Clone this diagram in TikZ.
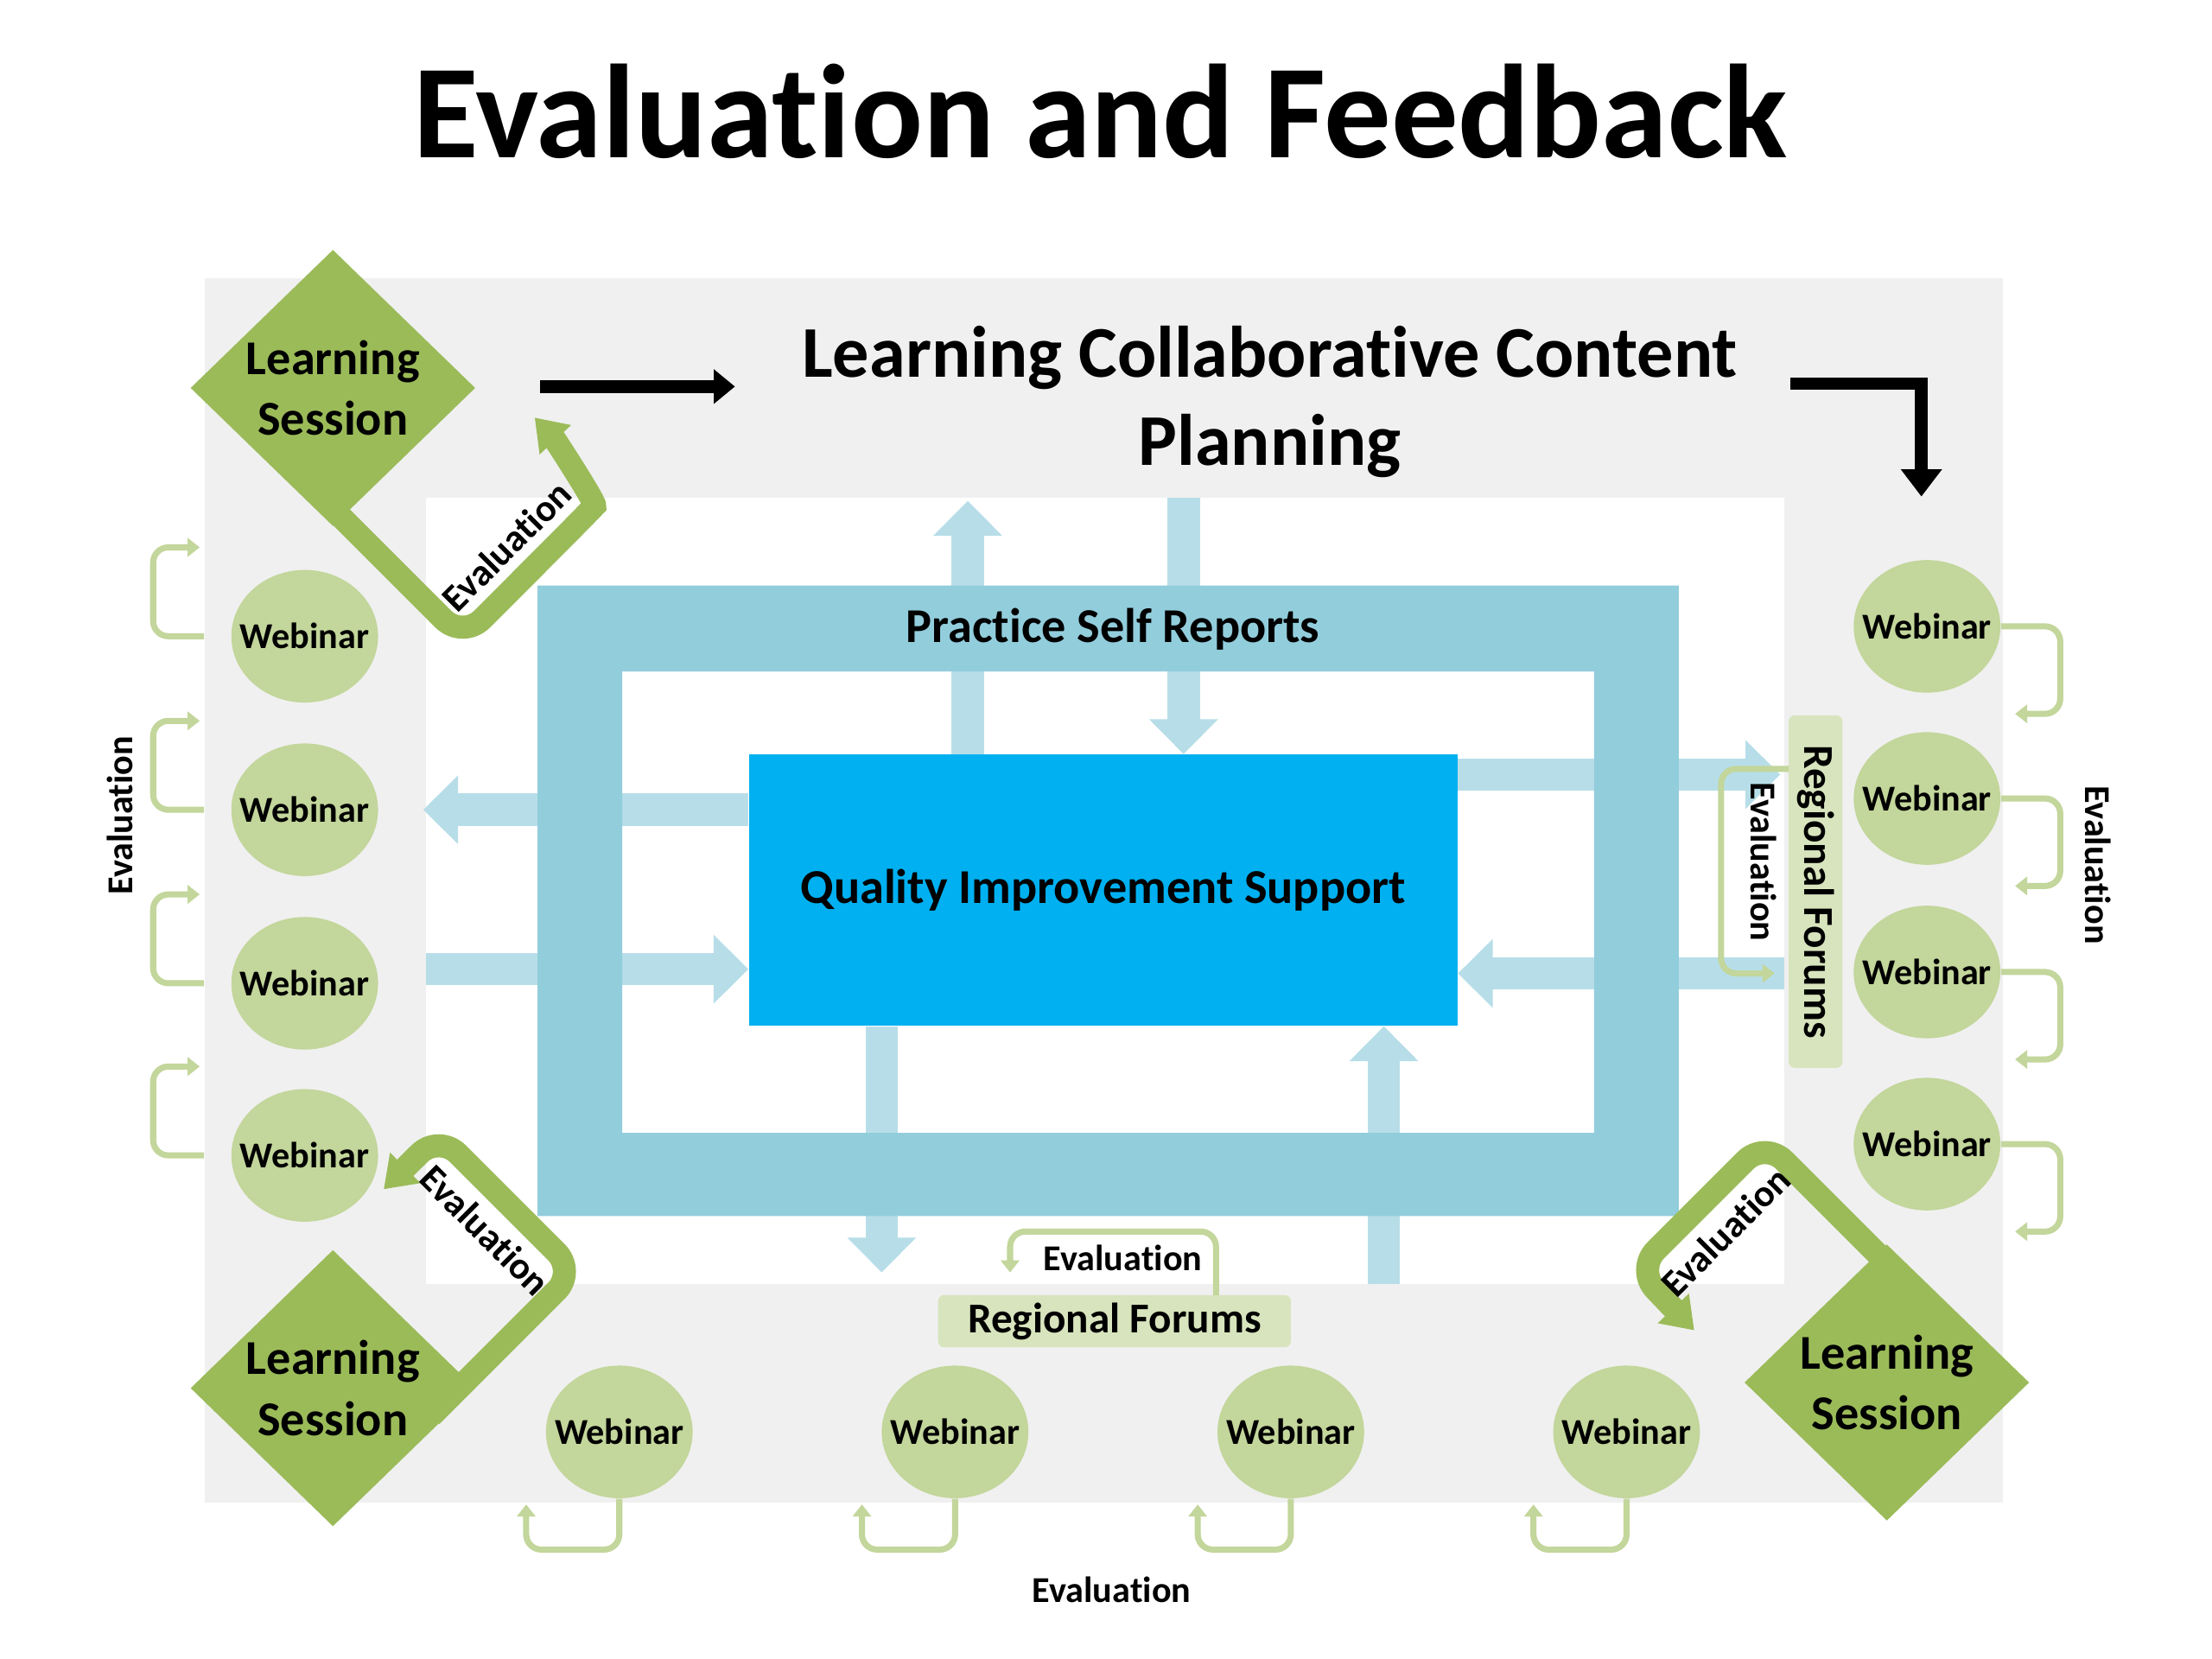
\documentclass[tikz,border=0pt]{standalone}
\usepackage{fontspec}
\setmainfont{Carlito}[Ligatures=CommonOff]
\usetikzlibrary{shapes.geometric,arrows.meta}
\newdimen\unitpx
\unitpx=0.016327cm
\definecolor{bggrey}{HTML}{F0F0F0}
\definecolor{framebl}{HTML}{92CDDC}
\definecolor{arrowbl}{HTML}{B7DEE8}
\definecolor{qiblue}{HTML}{00B0F0}
\definecolor{dkgreen}{HTML}{9BBB59}
\definecolor{ltgreen}{HTML}{C3D69B}
\definecolor{paleg}{HTML}{D7E4BD}
\begin{document}
\begin{tikzpicture}[x=0.016327cm, y=-0.016327cm,
  barrow/.style={arrowbl, line width=10.7pt, -{Triangle[width=22pt,length=11.5pt]}},
  gband/.style={dkgreen, line width=7.6pt, rounded corners=9pt, -{Triangle[width=13.5pt,length=10pt]}},
  sbrack/.style={ltgreen, line width=2pt, rounded corners=5pt, -{Triangle[width=6pt,length=4pt]}},
  karrow/.style={black, line width=4.2pt, -{Triangle[width=11pt,length=7pt]}},
  webinar/.style={ellipse, fill=ltgreen, minimum width={104*\unitpx}, minimum height={94*\unitpx}, inner sep=0pt,
    label={[font=\bfseries\fontsize{12}{14}\selectfont]center:Webinar}},
  lsdiamond/.style={diamond, fill=dkgreen, minimum width={202*\unitpx}, minimum height={196*\unitpx}, inner sep=0pt,
    label={[font=\bfseries\fontsize{16}{20}\selectfont, align=center]center:Learning\\Session}},
  evtext/.style={font=\bfseries\fontsize{12}{14}\selectfont, inner sep=0pt},
  bandtext/.style={font=\bfseries\fontsize{12.5}{14}\selectfont, inner sep=0pt},
  rfbox/.style={fill=paleg, rounded corners=2pt, inner sep=0pt, font=\bfseries\fontsize{14}{16}\selectfont}
]
\useasboundingbox[fill=white] (0,0) rectangle (1568,1176);

% title
\node[font=\bfseries\fontsize{44}{52}\selectfont, anchor=base] (title) at (780,112) {Evaluation and Feedback};

% backgrounds
\node[fill=bggrey, minimum width={1275*\unitpx}, minimum height={868*\unitpx}, inner sep=0pt] (bg) at (782.5,631) {};
\node[fill=white, minimum width={963*\unitpx}, minimum height={557*\unitpx}, inner sep=0pt] (inner) at (783.5,631.5) {};

% QI box
\node[fill=qiblue, minimum width={502*\unitpx}, minimum height={192*\unitpx}, inner sep=0pt,
      font=\bfseries\fontsize{16}{20}\selectfont] (qi) at (782,631) {Quality Improvement Support};

% light blue arrows
\coordinate (upA) at (686,355);  \draw[barrow] (qi.north -| upA) -- (upA);
\coordinate (dnA) at (839,353);  \draw[barrow] (dnA) -- (qi.north -| dnA);
\coordinate (lfA) at (300,574);  \draw[barrow] (qi.west |- lfA) -- (lfA);
\coordinate (rtA) at (302,687);  \draw[barrow] (rtA) -- (qi.west |- rtA);
\coordinate (rtB) at (1262,549); \draw[barrow] (qi.east |- rtB) -- (rtB);
\coordinate (lfB) at (1265,690); \draw[barrow] (lfB) -- (qi.east |- lfB);
\coordinate (dnB) at (625,902);  \draw[barrow] (qi.south -| dnB) -- (dnB);
\coordinate (upB) at (981,910);  \draw[barrow] (upB) -- (qi.south -| upB);

% frame
\fill[framebl, even odd rule] (381,415) rectangle (1190,862) (441,476) rectangle (1130,803);
\node[font=\bfseries\fontsize{16}{20}\selectfont] (psr) at (789,446) {Practice Self Reports};

% planning text
\node[font=\bfseries\fontsize{24}{29}\selectfont, align=center] (plan) at (900,285) {Learning Collaborative Content\\Planning};

% black arrows
\coordinate (ka1) at (383,274); \coordinate (ka2) at (521,274);
\draw[karrow] (ka1) -- (ka2);
\coordinate (kb1) at (1269,272); \coordinate (kb2) at (1362,272); \coordinate (kb3) at (1362,352);
\draw[karrow, line join=miter, -{Triangle[width=13pt,length=9pt]}] (kb1) -- (kb2) -- (kb3);

% green evaluation bands (behind diamonds)
\draw[gband] (230.7,355.3) -- (328,452.6) -- (408,372.5) .. controls (423,357) and (393,311) .. (379,296);
\draw[gband] (305.7,1003.7) -- (408.1,901.3) -- (311,804.2) -- (272,843);
\draw[gband] (1352,910) -- (1251,809) -- (1160,900) -- (1201,943);

\node[bandtext, rotate=45] (ev1) at (359,387) {Evaluation};
\node[bandtext, rotate=-45] (ev2) at (344,872) {Evaluation};
\node[bandtext, rotate=45] (ev3) at (1223,873) {Evaluation};

% diamonds
\node[lsdiamond] (ls1) at (236,275) {};
\node[lsdiamond] (ls2) at (236,984) {};
\node[lsdiamond] (ls3) at (1337.5,980) {};

% webinars
\node[webinar] (wl1) at (216,451) {};
\node[webinar] (wl2) at (216,574) {};
\node[webinar] (wl3) at (216,697) {};
\node[webinar] (wl4) at (216,819) {};
\node[webinar] (wr1) at (1366,444) {};
\node[webinar] (wr2) at (1366,566) {};
\node[webinar] (wr3) at (1366,689) {};
\node[webinar] (wr4) at (1366,811) {};
\node[webinar] (wb1) at (439,1015) {};
\node[webinar] (wb2) at (677,1015) {};
\node[webinar] (wb3) at (915,1015) {};
\node[webinar] (wb4) at (1153,1015) {};

% small evaluation brackets
\foreach \w in {wl1,wl2,wl3,wl4}
  \draw[sbrack] (bg.west |- \w) -- ++(-36,0) -- ++(0,-63) -- ++(33,0);
\foreach \w in {wr1,wr2,wr3,wr4}
  \draw[sbrack] (\w.east) -- ++(42,0) -- ++(0,62) -- ++(-32,0);
\foreach \w in {wb1,wb2,wb3,wb4}
  \draw[sbrack] (\w.south) -- ++(0,36) -- ++(-66,0) -- ++(0,-32);

% regional forums
\node[rfbox, minimum width={250*\unitpx}, minimum height={37*\unitpx}] (rf1) at (790,936.5) {Regional Forums};
\node[rfbox, rotate=-90, minimum width={250*\unitpx}, minimum height={38*\unitpx}] (rf2) at (1287,632) {Regional Forums};
\coordinate (rb1) at (862,918); \coordinate (rb2) at (862,873); \coordinate (rb3) at (716,873); \coordinate (rb4) at (716,902);
\draw[sbrack] (rb1) -- (rb2) -- (rb3) -- (rb4);
\node[evtext] (ev4) at (796,892) {Evaluation};
\coordinate (rc1) at (1268,545); \coordinate (rc2) at (1220,545); \coordinate (rc3) at (1220,690); \coordinate (rc4) at (1258,690);
\draw[sbrack] (rc1) -- (rc2) -- (rc3) -- (rc4);
\node[evtext, rotate=-90] (ev5) at (1250,611) {Evaluation};

% outer evaluation labels
\node[evtext, rotate=90] (ev6) at (85,578) {Evaluation};
\node[evtext, rotate=-90] (ev7) at (1487,613) {Evaluation};
\node[evtext] (ev8) at (788,1127) {Evaluation};
\end{tikzpicture}
\end{document}
